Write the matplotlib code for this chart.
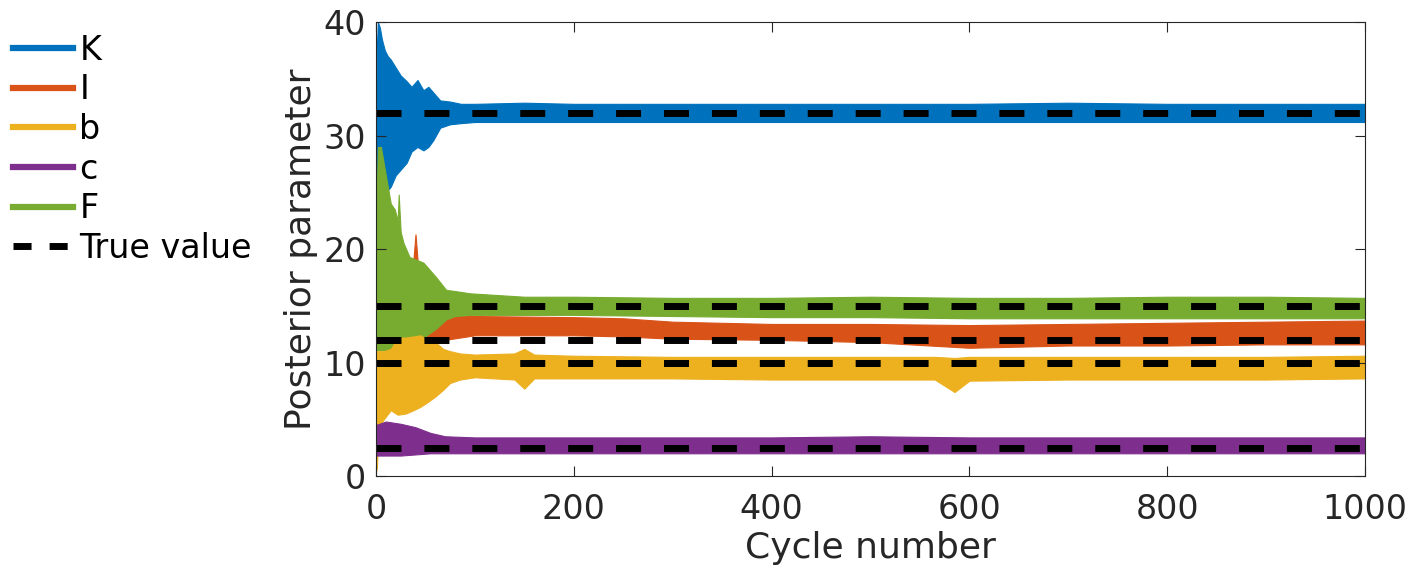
import numpy as np
import matplotlib.pyplot as plt
from matplotlib.lines import Line2D

# band envelopes (low / high), per parameter
cyc_K = [0, 1, 2, 4, 6, 9, 12, 15, 20, 25, 31, 36, 42, 48, 53, 58, 65, 75, 86, 100,
         150, 200, 300, 400, 500, 600, 700, 800, 900, 1000]
K_hi = [30, 38, 40, 39.5, 38.5, 37.5, 37.0, 36.7, 36.0, 35.3, 34.8, 34.3, 34.9, 34.0, 34.3,
        33.8, 33.1, 33.0, 32.8, 32.8, 32.9, 32.8, 32.8, 32.8, 32.8, 32.8, 32.9, 32.8, 32.8, 32.8]
K_lo = [11.5, 12, 14, 20, 23, 24.5, 25.2, 25.5, 26.5, 27.0, 27.6, 28.6, 29.0, 28.7, 29.0,
        29.6, 30.7, 31.0, 31.1, 31.2, 31.2, 31.2, 31.2, 31.2, 31.2, 31.2, 31.2, 31.2, 31.2, 31.2]

cyc_F = [0, 2, 5, 8, 11, 15, 19, 22, 23, 25, 28, 34, 48, 61, 71, 80, 95, 150, 200, 300,
         400, 500, 600, 700, 800, 900, 1000]
F_hi = [22, 29, 29, 27.5, 26, 24.0, 23.5, 22.5, 24.8, 21.5, 20.5, 19.3, 18.8, 17.5, 16.4,
        16.3, 16.1, 15.8, 15.8, 15.7, 15.7, 15.8, 15.7, 15.7, 15.8, 15.8, 15.7]
F_lo = [11.1, 11.1, 11.1, 11.1, 11.1, 11.1, 11.2, 11.3, 11.3, 11.4, 11.5, 11.8, 12.2, 13.0,
        13.8, 14.1, 14.2, 14.2, 14.2, 14.1, 14.0, 14.0, 13.9, 13.9, 13.9, 13.9, 13.9]

cyc_I = [0, 2, 5, 10, 20, 30, 36, 40, 43, 46, 50, 55, 70, 100, 200, 250, 300, 400, 500,
         600, 700, 800, 900, 1000]
I_hi = [17.3, 15.5, 14.0, 13.8, 13.8, 14.5, 17, 21.3, 18, 15, 14.0, 14.0, 14.1, 14.1, 14.0,
        13.9, 13.6, 13.4, 13.4, 13.3, 13.4, 13.5, 13.6, 13.7]
I_lo = [12.5, 12, 11.5, 11.2, 11.2, 11.3, 11.5, 12, 12, 11.6, 11.5, 11.5, 12.0, 12.4, 12.4,
        12.3, 12.1, 12.0, 11.8, 11.3, 11.5, 11.5, 11.6, 11.6]

cyc_b = [0, 1, 2, 4, 8, 15, 22, 30, 38, 45, 52, 60, 68, 75, 85, 100, 140, 150, 160, 200,
         300, 400, 500, 565, 585, 600, 700, 800, 900, 1000]
b_hi = [10.5, 11.0, 11.0, 11.0, 11.0, 11.2, 12.2, 12.2, 12.3, 12.4, 12.0, 11.8, 11.2, 11.0,
        10.8, 10.7, 10.8, 11.2, 10.7, 10.6, 10.5, 10.5, 10.5, 10.5, 10.4, 10.5, 10.5, 10.5,
        10.5, 10.6]
b_lo = [0.3, 0.8, 3.0, 4.5, 5.0, 5.8, 5.4, 5.5, 5.8, 6.1, 6.5, 7.0, 7.6, 8.2, 8.5, 8.7,
        8.5, 7.7, 8.6, 8.6, 8.6, 8.5, 8.5, 8.5, 7.4, 8.4, 8.5, 8.5, 8.5, 8.6]

cyc_c = [0, 10, 25, 40, 55, 70, 100, 200, 300, 400, 500, 600, 700, 800, 900, 1000]
c_hi = [4.5, 4.8, 4.6, 4.3, 3.8, 3.5, 3.4, 3.4, 3.4, 3.4, 3.5, 3.4, 3.4, 3.4, 3.4, 3.4]
c_lo = [1.8, 1.8, 1.8, 1.9, 2.0, 2.0, 2.0, 2.0, 2.0, 2.0, 2.0, 2.0, 2.0, 2.0, 2.0, 2.0]

names = ['K', 'I', 'b', 'c', 'F']
true_vals = [32, 12, 10, 2.5, 15]
colors = {'K': '#0072BD', 'I': '#D95319', 'b': '#EDB120', 'c': '#7E2F8E', 'F': '#77AC30'}

bands = {'K': (cyc_K, K_lo, K_hi), 'F': (cyc_F, F_lo, F_hi), 'I': (cyc_I, I_lo, I_hi),
         'b': (cyc_b, b_lo, b_hi), 'c': (cyc_c, c_lo, c_hi)}

fig = plt.figure(figsize=(14.08, 5.68), dpi=100)
ax = fig.add_axes([0.267, 0.162, 0.7025, 0.799])

for n in ['K', 'I', 'F', 'b', 'c']:
    x, lo, hi = bands[n]
    ax.fill_between(x, lo, hi, color=colors[n], lw=0.8, edgecolor=colors[n])

for tv in true_vals:
    ax.plot([0, 1000], [tv, tv], color='k', lw=5, dashes=(3.6, 3.3),
            solid_capstyle='butt', dash_capstyle='butt')

ax.set_xlim(0, 1000)
ax.set_ylim(0, 40)
ax.set_xticks([0, 200, 400, 600, 800, 1000])
ax.set_yticks([0, 10, 20, 30, 40])
ax.tick_params(direction='in', length=7, width=0.8, top=True, right=True,
               labelsize=24, colors='#262626')
ax.tick_params(axis='x', pad=12)
ax.tick_params(axis='y', pad=7)
for s in ax.spines.values():
    s.set_color('#262626')
    s.set_linewidth(0.8)
ax.set_xlabel('Cycle number', fontsize=26, color='#262626', labelpad=4)
ax.set_ylabel('Posterior parameter', fontsize=26, color='#262626', labelpad=4)

handles = [Line2D([], [], color=colors[n], lw=4.5) for n in names]
handles.append(Line2D([], [], color='k', lw=5, dashes=(2.6, 2.6), dash_capstyle='butt'))
fig.legend(handles, names + ['True value'], loc='upper left', bbox_to_anchor=(0.009, 0.941),
           frameon=False, fontsize=24, handlelength=1.8, handletextpad=0.2,
           labelspacing=0.2, borderpad=0, borderaxespad=0)

fig.savefig('out.png', dpi=100)
